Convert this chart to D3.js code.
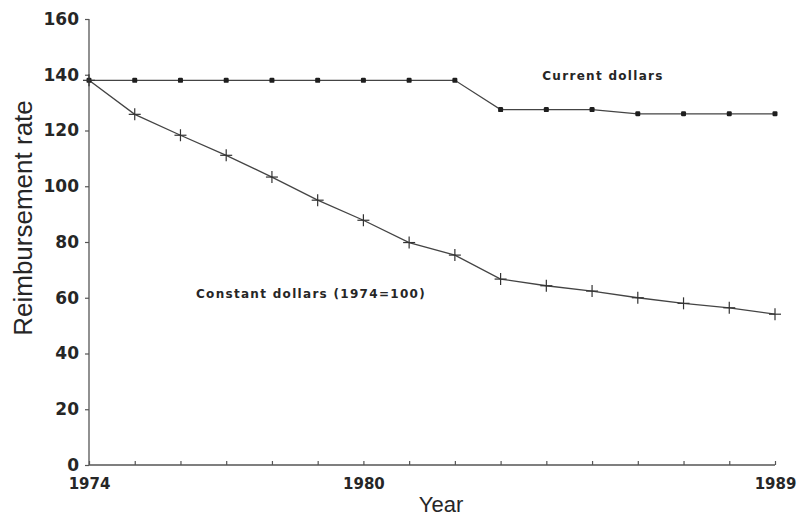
<!DOCTYPE html>
<html>
<head>
<meta charset="utf-8">
<script src="https://cdn.jsdelivr.net/npm/d3@7"></script>
<style>
  html, body { margin: 0; padding: 0; background: #fff; }
  svg { display: block; }
</style>
</head>
<body>
<svg id="chart" width="798" height="518"></svg>
<script>
// Reimbursement rate, 1974–1989
const years = d3.range(1974, 1990);
const currentDollars = [138, 138, 138, 138, 138, 138, 138, 138, 138, 127.5, 127.5, 127.5, 126, 126, 126, 126];
const constantDollars = [138, 125.8, 118.3, 111.1, 103.3, 95, 87.8, 79.8, 75.3, 66.7, 64.3, 62.4, 60, 58, 56.4, 54.1];
const yTicks = [0, 20, 40, 60, 80, 100, 120, 140, 160];
const xLabels = [1974, 1980, 1989];

const svg = d3.select("#chart");
const ink = "#262626";

const x = d3.scaleLinear().domain([1974, 1989]).range([89, 775]);
const y = d3.scaleLinear().domain([0, 160]).range([465, 19]);

// Y axis
const yAxis = svg.append("g").attr("transform", `translate(${x(1974)},0)`)
  .call(d3.axisLeft(y).tickValues(yTicks).tickSize(4).tickPadding(6).tickFormat(d3.format("d")));
yAxis.select(".domain").attr("stroke", "#555").attr("stroke-width", 1.3).attr("d", `M0,${y(0)}V${y(160)}`);
yAxis.selectAll(".tick line").attr("stroke", "#555").attr("stroke-width", 1.2);
yAxis.selectAll(".tick text")
  .attr("fill", ink)
  .style("font-family", "'DejaVu Sans', sans-serif")
  .style("font-weight", "bold")
  .style("font-size", "17px");

// X axis: a tick every year, labels only at the ends and 1980
const xAxis = svg.append("g").attr("transform", `translate(0,${y(0)})`)
  .call(d3.axisBottom(x).tickValues(years).tickSize(-4).tickPadding(10)
    .tickFormat(d => xLabels.includes(d) ? String(d) : ""));
xAxis.select(".domain").attr("stroke", "#555").attr("stroke-width", 1.3).attr("d", `M${x(1974)},0H${x(1989)}`);
xAxis.selectAll(".tick line").attr("stroke", "#555").attr("stroke-width", 1.2);
xAxis.selectAll(".tick text")
  .attr("fill", ink)
  .attr("dy", "0.9em")
  .style("font-family", "'DejaVu Sans', sans-serif")
  .style("font-weight", "bold")
  .style("font-size", "15px");

// Axis titles
svg.append("text")
  .attr("x", 441).attr("y", 512)
  .attr("text-anchor", "middle")
  .attr("fill", ink)
  .style("font-family", "'Liberation Sans', Arial, sans-serif")
  .style("font-size", "22px")
  .text("Year");

svg.append("text")
  .attr("transform", "translate(32,218) rotate(-90)")
  .attr("text-anchor", "middle")
  .attr("fill", ink)
  .style("font-family", "'Liberation Sans', Arial, sans-serif")
  .style("font-size", "26px")
  .text("Reimbursement rate");

// Series lines
const line = d3.line().x((d, i) => x(years[i])).y(d => y(d));

svg.append("path")
  .datum(currentDollars)
  .attr("d", line)
  .attr("fill", "none")
  .attr("stroke", "#444")
  .attr("stroke-width", 1.2);

svg.append("path")
  .datum(constantDollars)
  .attr("d", line)
  .attr("fill", "none")
  .attr("stroke", "#444")
  .attr("stroke-width", 1.3);

// Current dollars: small solid dots
svg.append("g").selectAll("rect")
  .data(currentDollars)
  .join("rect")
  .attr("x", (d, i) => x(years[i]) - 2.5)
  .attr("y", d => y(d) - 2.5)
  .attr("width", 5).attr("height", 5)
  .attr("rx", 1.2)
  .attr("fill", "#1e1e1e");

// Constant dollars: plus marks
const plus = svg.append("g").attr("stroke", "#333").attr("stroke-width", 1.2);
plus.selectAll("line.h")
  .data(constantDollars)
  .join("line").attr("class", "h")
  .attr("x1", (d, i) => x(years[i]) - 6).attr("x2", (d, i) => x(years[i]) + 6)
  .attr("y1", d => y(d)).attr("y2", d => y(d));
plus.selectAll("line.v")
  .data(constantDollars)
  .join("line").attr("class", "v")
  .attr("x1", (d, i) => x(years[i])).attr("x2", (d, i) => x(years[i]))
  .attr("y1", d => y(d) - 6).attr("y2", d => y(d) + 6);

// Series annotations
const noteStyle = sel => sel
  .attr("fill", ink)
  .style("font-family", "'DejaVu Sans', sans-serif")
  .style("font-weight", "bold")
  .style("font-size", "12px")
  .style("letter-spacing", "1.3px");

svg.append("text")
  .attr("x", 603).attr("y", 80)
  .attr("text-anchor", "middle")
  .call(noteStyle)
  .text("Current dollars");

svg.append("text")
  .attr("x", 311).attr("y", 298)
  .attr("text-anchor", "middle")
  .call(noteStyle)
  .text("Constant dollars (1974=100)");
</script>
</body>
</html>
